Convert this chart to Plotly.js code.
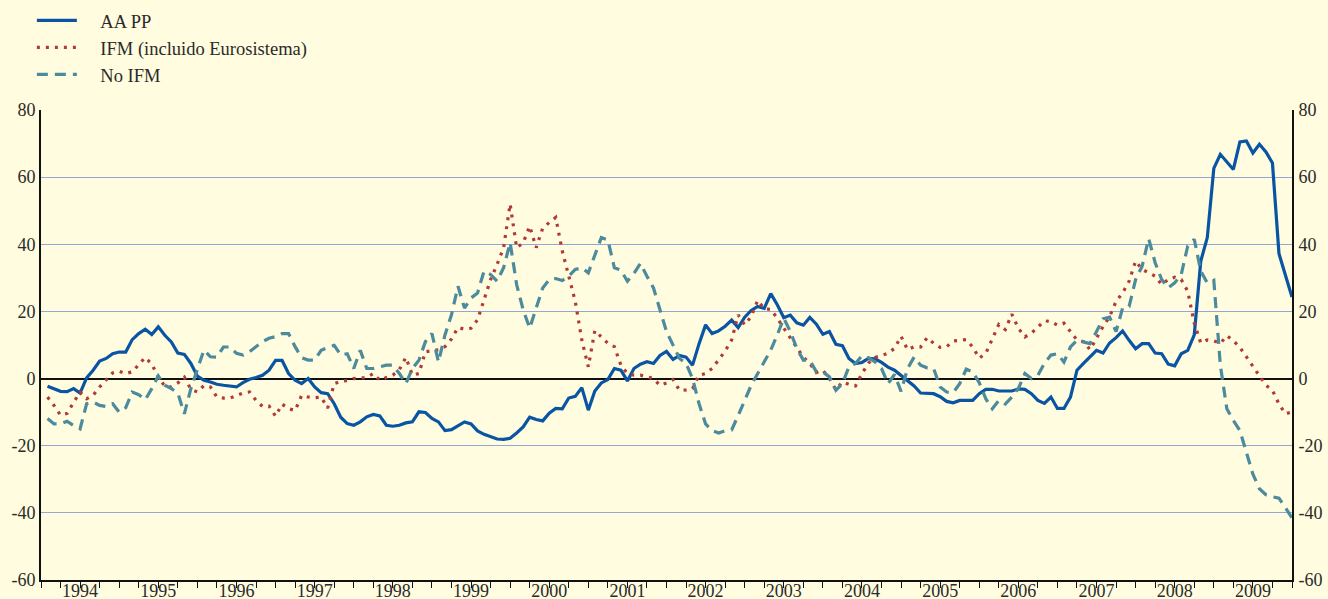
<!DOCTYPE html>
<html>
<head>
<meta charset="utf-8">
<script src="https://cdn.plot.ly/plotly-3.0.1.min.js"></script>
<style>
html,body{margin:0;padding:0;background:#fffcdf;}
#chart{width:1328px;height:599px;}
</style>
</head>
<body>
<div id="chart"></div>
<script>
// Monthly series, Jan 1994 .. Dec 2009
const startYear = 1994;
const years = [1994,1995,1996,1997,1998,1999,2000,2001,2002,2003,2004,2005,2006,2007,2008,2009];
const seriesNames = ["AA PP", "IFM (incluido Eurosistema)", "No IFM"];

const aaPP = [
  -2.3,-3,-3.8,-3.9,-3,-4.3,0.2,2.5,5.2,6,7.4,7.9,
  7.9,11.6,13.4,14.7,13.1,15.4,12.9,10.9,7.6,7.2,4.5,0.7,
  -0.5,-1,-1.7,-2,-2.2,-2.5,-1.2,-0.2,0.3,1,2.5,5.4,
  5.4,1.5,-0.5,-1.5,0,-2.5,-4.2,-4.5,-7.5,-11.5,-13.4,-13.9,
  -12.9,-11.4,-10.7,-11.1,-13.9,-14.2,-13.9,-13.2,-12.9,-9.9,-10.1,-11.9,
  -12.9,-15.5,-15.2,-14,-12.9,-13.5,-15.6,-16.6,-17.2,-18,-18.1,-17.8,
  -16.2,-14.4,-11.5,-12.2,-12.6,-10.3,-8.9,-9,-5.8,-5.3,-2.7,-9.4,
  -3.7,-1.3,-0.3,3,2.5,-0.7,3,4.3,5,4.5,6.9,8.1,
  5.7,6.9,6.4,4,10.4,16,13.4,14.2,15.6,17.4,15.2,18.3,
  20.3,21.5,20.9,25.3,22,18.1,18.9,16.6,15.9,18.2,16.2,13.2,
  14,10.2,9.8,6,4.5,4.8,6,5.9,4.8,3.4,2.5,0.9,
  -0.6,-2.2,-4.3,-4.5,-4.5,-5.4,-6.8,-7.2,-6.5,-6.5,-6.5,-4.5,
  -3.2,-3.2,-3.7,-3.7,-3.7,-3.1,-3.2,-4.5,-6.5,-7.4,-5.5,-8.9,
  -8.9,-5.5,2.5,4.5,6.6,8.4,7.6,10.6,12.2,14.2,11.4,8.9,
  10.4,10.4,7.6,7.4,4.3,3.8,7.4,8.4,13,35,42,62.6,
  66.8,64.5,62.3,70.5,70.8,67.2,69.8,67.5,64.2,37.2,31,24.3
];

const ifm = [
  -5.5,-8,-10.9,-10.4,-7.1,-4,-6,-5,-2.5,-0.5,1.7,2.2,
  1.5,2,4,6.3,4.3,0.5,-2.3,-2.5,-1.3,0.4,-3.2,-4,
  -2.1,-2.5,-5.5,-5.8,-5.8,-5,-4.3,-4,-6.5,-8.3,-8.2,-11.2,
  -7.6,-9,-9.5,-5,-5.5,-5.7,-5.5,-8.8,-1.5,-0.8,-0.6,0,
  0.2,0.3,1.5,-0.5,0.3,1,2.7,6.3,1,1.5,8,8.3,
  8.6,9.5,11.8,15.2,14.7,15,17.5,23.5,29.5,34,39,52,
  39,40.4,45.4,39,44.8,46.5,48,38,30,23,11.5,3.5,
  14.3,12.5,10.5,9.5,4,1.5,1,1,0.5,0,-2,-1.3,
  -0.3,-3.5,-3.4,-3,1,1.5,3,5.8,8.2,11.5,19,16,
  18.5,23.3,20.8,20.6,18,15,12,9,6.4,4.5,1.8,2.5,
  0,-3.3,-1,-1.7,-2.2,1.5,4.6,6.3,6.8,7.6,9,12.6,
  8.6,9.5,9.4,12.2,10.5,9.3,9.5,11.2,11.4,11.6,9.4,6.1,
  7.5,12,16.1,14.6,19.2,15,12.4,13.5,15.5,17.2,17,15.9,
  16.5,14,11.5,11,8.6,12,15.5,18.5,23,25.5,29,35,
  32.5,31.5,30.5,28,29.5,30.2,29.5,26,16.5,10.6,11.5,11.2,
  10.5,12.8,11.3,9.3,6.5,4,1,-2,-3.5,-7.6,-10.5,-9.9
];

const noIfm = [
  -11.9,-13.5,-13.5,-12.7,-14,-15,-7.5,-7,-8,-8.3,-7.5,-10,
  -8.7,-4,-4.8,-6.3,-3,0.8,-2,-3,-4.3,-10.5,-3,3,
  8.5,6.5,6.4,9.4,9.4,7.5,7,8,9.5,11,12,12.5,
  13.4,13.4,9.5,6.2,5.5,5.5,8.4,9.3,9.9,7,7.4,3,
  8.4,3,3,3.5,4,4,1.5,-1.5,3,5.5,11,13.4,
  5,13,19,27.5,21,24,25.5,32,31,29,33,40.5,
  28,20.5,15,21,27,29.5,29.8,29.2,30.5,32.5,33,31.5,
  37,42,41.3,33,32.3,29,31.3,34.3,30.5,27,20.5,14,
  10,6,4.5,0,-7.5,-13.5,-15.5,-16.2,-15.5,-15.3,-11,-6.5,
  -2,1.5,5,8.5,13,18,14,9,5.5,5.5,2,2,
  0.5,-3.5,-1.5,3.5,4.5,6.8,6.2,5,3,-1.5,1.2,-3.8,
  3,6.4,4,3.2,3,-2.5,-4,-4.2,-1.5,2.8,2,-1.2,
  -6,-9,-6.5,-7.6,-5.5,-3,1.5,0,1,4.5,7,7.4,
  4.9,9.4,11.4,10.8,10.4,14,17.8,18.3,14,21,21.5,29.5,
  33.5,41.7,34.5,29.5,27,28.5,31,39.5,41.5,32,28.5,29.3,
  4,-9,-12.5,-15.5,-22,-28.5,-32.8,-34.6,-35.2,-35.6,-38.5,-41.5
];

const yTicks = [-60,-40,-20,0,20,40,60,80];
const yTickText = yTicks.map(v => String(v));

// month-end positions in decimal years
const xs = aaPP.map((_, i) => startYear + (i + 1) / 12);
const yearMid = years.map(y => y + 0.5);
const quarterTicks = [];
for (let k = 0; k <= years.length * 4; k++) quarterTicks.push(startYear + k / 4);
const xRange = [startYear, years[years.length - 1] + 1];

const serif = '"Liberation Serif", "Times New Roman", serif';
const txt = '#2a2a2a';
const pad = '\u2002\u2002';

const traces = [
  {x: xs, y: aaPP, name: pad + seriesNames[0], type: 'scatter', mode: 'lines',
   line: {color: '#0a55a3', width: 3.2}},
  {x: xs, y: ifm, name: pad + seriesNames[1], type: 'scatter', mode: 'lines',
   line: {color: '#b23a36', width: 3.2, dash: '3px,6px'}},
  {x: xs, y: noIfm, name: pad + seriesNames[2], type: 'scatter', mode: 'lines',
   line: {color: '#4b8b9d', width: 3.2, dash: '11px,7px'}},
  {x: xRange, y: [null, null], xaxis: 'x2', yaxis: 'y2', type: 'scatter', mode: 'lines',
   showlegend: false, hoverinfo: 'skip'}
];

const layout = {
  width: 1328, height: 599,
  paper_bgcolor: '#fffcdf', plot_bgcolor: '#fffcdf',
  margin: {l: 41, r: 36, t: 110, b: 19, autoexpand: false},
  font: {family: serif, size: 18, color: txt},
  showlegend: true,
  legend: {xref: 'container', yref: 'container', x: 0.024, y: 0.997, xanchor: 'left', yanchor: 'top',
           bgcolor: 'rgba(0,0,0,0)', font: {family: serif, size: 18.5, color: txt},
           tracegroupgap: 0, itemwidth: 40},
  xaxis: {range: xRange, tickmode: 'array', tickvals: yearMid, ticktext: years.map(String),
          ticks: '', showgrid: false, zeroline: false, showline: true, linecolor: '#111', linewidth: 2,
          ticklabelstandoff: -7,
          tickfont: {family: serif, size: 18, color: txt}, fixedrange: true},
  xaxis2: {range: xRange, overlaying: 'x', anchor: 'y', tickmode: 'array', tickvals: quarterTicks,
           ticks: 'outside', ticklen: 7, tickwidth: 1, tickcolor: '#111', showticklabels: false,
           showgrid: false, zeroline: false, showline: false},
  yaxis: {range: [-60, 80], tickmode: 'array', tickvals: yTicks, ticktext: yTickText, ticks: '',
          showgrid: true, gridcolor: '#93a6d6', gridwidth: 1,
          zeroline: true, zerolinecolor: '#111', zerolinewidth: 2,
          showline: true, linecolor: '#111', linewidth: 2,
          tickfont: {family: serif, size: 18, color: txt}},
  yaxis2: {range: [-60, 80], overlaying: 'y', side: 'right', anchor: 'x', tickmode: 'array',
           tickvals: yTicks, ticktext: yTickText,
           ticks: '', showgrid: false, zeroline: false, showline: true, linecolor: '#111', linewidth: 2,
           ticklabelstandoff: 1,
           tickfont: {family: serif, size: 18, color: txt}}
};

Plotly.newPlot('chart', traces, layout, {displayModeBar: false, staticPlot: true});
</script>
</body>
</html>
